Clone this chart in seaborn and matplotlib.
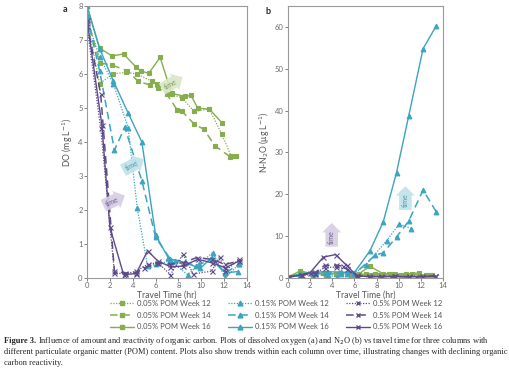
import matplotlib
matplotlib.use('Agg')
import matplotlib.pyplot as plt
import seaborn as sns
from matplotlib.lines import Line2D

# ---- panel a: dissolved oxygen (mg/L) vs travel time (hr) ----
g12_t = [0, 1.1, 2.3, 3.4, 4.4, 5.7, 6.1, 7.4, 8.3, 9.4, 10.7, 11.8, 12.6]
g12_do = [7.6, 5.72, 6.0, 6.05, 6.0, 5.78, 5.72, 5.4, 5.3, 4.9, 4.97, 4.23, 3.6]
g14_t = [0, 1.1, 2.2, 3.5, 4.5, 5.5, 6.2, 7.0, 7.9, 8.3, 9.4, 10.2, 11.2, 12.5, 13.0]
g14_do = [7.7, 6.33, 6.26, 6.1, 5.78, 5.68, 5.6, 5.4, 4.94, 4.91, 4.52, 4.38, 3.89, 3.57, 3.59]
g16_t = [0, 1.1, 2.2, 3.2, 4.3, 4.7, 5.4, 6.4, 7.4, 8.6, 9.1, 9.7, 10.7, 11.8]
g16_do = [8.0, 6.76, 6.53, 6.59, 6.2, 6.09, 6.02, 6.49, 5.43, 5.34, 5.37, 4.99, 4.97, 4.57]

t12_t = [0, 1.1, 2.3, 3.6, 4.4, 5.3, 6.0, 7.3, 8.8, 9.8, 11.0, 12.1, 13.3]
t12_do = [7.6, 6.5, 5.72, 4.42, 2.05, 0.35, 0.4, 0.5, 0.1, 0.4, 0.75, 0.0, 0.4]
t14_t = [0, 1.1, 2.4, 3.3, 4.8, 6.0, 7.3, 8.6, 9.5, 10.9, 12.1, 13.3]
t14_do = [7.7, 6.1, 3.76, 4.43, 2.86, 1.2, 0.55, 0.48, 0.35, 0.55, 0.14, 0.41]
t16_t = [0, 1.1, 2.3, 3.6, 4.8, 6.0, 7.1, 7.7, 8.6, 9.9, 10.9, 12.1, 13.2]
t16_do = [8.0, 6.75, 5.8, 4.85, 4.0, 1.27, 0.6, 0.51, 0.45, 0.28, 0.6, 0.15, 0.19]

p12_t = [0, 1.2, 2.4, 3.3, 4.3, 5.3, 6.2, 7.3, 8.4, 9.3, 10.9, 11.6, 12.1, 13.3]
p12_do = [7.4, 4.4, 0.15, 0.12, 0.2, 0.4, 0.45, 0.1, 0.7, 0.12, 0.2, 0.62, 0.2, 0.55]
p14_t = [0, 1.2, 2.4, 3.3, 4.3, 5.0, 6.1, 7.3, 8.4, 9.6, 10.9, 12.1, 13.3]
p14_do = [7.5, 5.4, 0.2, 0.15, 0.15, 0.3, 0.45, 0.4, 0.45, 0.6, 0.55, 0.4, 0.5]
p16_t = [0, 1.3, 2.0, 3.2, 4.3, 5.3, 6.2, 7.3, 8.4, 9.7, 10.9, 12.1, 13.3]
p16_do = [7.6, 4.5, 1.5, 0.1, 0.13, 0.8, 0.5, 0.33, 0.35, 0.55, 0.45, 0.3, 0.5]

# ---- panel b: N-N2O (ug/L) vs travel time (hr) ----
g12_n = [0.2, 1.0, 0.8, 0.7, 0.9, 0.8, 0.7, 0.6, 0.7, 0.6, 0.6, 0.7, 0.6]
g14_n = [0.2, 1.2, 1.1, 1.3, 1.0, 0.9, 0.8, 0.9, 1.0, 0.8, 0.9, 0.8, 0.9, 0.7, 0.7]
g16_n = [0.2, 1.7, 1.0, 1.1, 1.0, 1.2, 1.2, 1.0, 2.8, 1.0, 1.0, 0.9, 1.0, 1.2]
t12_nt = [0, 1.1, 2.3, 3.6, 4.4, 5.3, 6.0, 7.0, 8.9, 10.05, 11.15]
t12_n = [0.2, 0.5, 1.0, 0.6, 0.3, 1.0, 1.2, 3.0, 8.9, 12.9, 11.8]
t14_nt = [0, 1.1, 2.4, 3.3, 4.8, 6.0, 7.9, 8.6, 9.8, 10.9, 12.2, 13.4]
t14_n = [0.2, 0.8, 1.0, 1.2, 1.0, 1.0, 5.5, 6.0, 9.8, 13.6, 21.0, 15.8]
t16_nt = [0, 1.1, 2.3, 3.6, 4.8, 6.0, 7.4, 8.6, 9.8, 10.9, 12.2, 13.4]
t16_n = [0.2, 1.0, 1.4, 1.5, 1.4, 1.3, 6.5, 13.4, 25.2, 38.7, 54.8, 60.3]
p12_n = [0.2, 0.6, 1.0, 2.5, 2.6, 2.2, 0.5, 0.3, 0.4, 0.3, 0.4, 0.3, 0.3, 0.5]
p14_n = [0.2, 0.7, 1.2, 3.0, 3.1, 2.8, 0.5, 0.4, 0.3, 0.4, 0.3, 0.4, 0.5]
p16_n = [0.2, 0.8, 1.3, 5.0, 5.6, 3.0, 0.6, 0.3, 0.3, 0.4, 0.3, 0.3, 0.5]

labels = ['0.05% POM Week 12', '0.05% POM Week 14', '0.05% POM Week 16',
          '0.15% POM Week 12', '0.15% POM Week 14', '0.15% POM Week 16',
          '0.5% POM Week 12', '0.5% POM Week 14', '0.5% POM Week 16']

GREEN = '#86AE4E'
TEAL = '#3BA4C0'
PURPLE = '#5E4A8A'
styles = {
    'g12': dict(color=GREEN, marker='s', ls=(0, (1, 1.2)), lw=0.9),
    'g14': dict(color=GREEN, marker='s', ls=(0, (5, 3)), lw=1.1),
    'g16': dict(color=GREEN, marker='s', ls='-', lw=1.0),
    't12': dict(color=TEAL, marker='^', ls=(0, (1, 1.2)), lw=0.9),
    't14': dict(color=TEAL, marker='^', ls=(0, (5, 3)), lw=1.1),
    't16': dict(color=TEAL, marker='^', ls='-', lw=1.0),
    'p12': dict(color=PURPLE, marker='x', ls=(0, (1, 1.2)), lw=0.9),
    'p14': dict(color=PURPLE, marker='x', ls=(0, (5, 3)), lw=1.1),
    'p16': dict(color=PURPLE, marker='x', ls='-', lw=1.0),
}

panel_a = [('g12', g12_t, g12_do), ('g14', g14_t, g14_do), ('g16', g16_t, g16_do),
           ('t12', t12_t, t12_do), ('t14', t14_t, t14_do), ('t16', t16_t, t16_do),
           ('p12', p12_t, p12_do), ('p14', p14_t, p14_do), ('p16', p16_t, p16_do)]
panel_b = [('g12', g12_t, g12_n), ('g14', g14_t, g14_n), ('g16', g16_t, g16_n),
           ('t12', t12_nt, t12_n), ('t14', t14_nt, t14_n), ('t16', t16_nt, t16_n),
           ('p12', p12_t, p12_n), ('p14', p14_t, p14_n), ('p16', p16_t, p16_n)]

sns.set_theme(style='white')
plt.rcParams['font.family'] = ['Lato', 'DejaVu Sans']

fig = plt.figure(figsize=(5.09, 3.70), dpi=100)
ax_a = fig.add_axes([87 / 509, 92 / 370, 160 / 509, 272 / 370])
ax_b = fig.add_axes([288 / 509, 92 / 370, 155 / 509, 272 / 370])


def draw(ax, series):
    for key, t, v in series:
        st = styles[key]
        ms = 3.4 if st['marker'] != 'x' else 3.6
        sns.lineplot(x=t, y=v, ax=ax, sort=False, estimator=None,
                     color=st['color'], linestyle=st['ls'], linewidth=st['lw'],
                     marker=st['marker'], markersize=ms,
                     markeredgecolor=st['color'], markeredgewidth=0.8)


draw(ax_a, panel_a)
draw(ax_b, panel_b)

for ax in (ax_a, ax_b):
    ax.set_xlim(0, 14)
    ax.set_xticks(range(0, 15, 2))
    for s in ax.spines.values():
        s.set_color('#9a9a9a')
        s.set_linewidth(0.8)
    ax.tick_params(labelsize=5.5, colors='#6b6b6b', length=2, width=0.6,
                   direction='out', left=True, bottom=True, pad=1.2)
    ax.set_xlabel('Travel Time (hr)', fontsize=6.2, color='#555555')
    ax.xaxis.set_label_coords(0.5, -0.045)

ax_a.set_ylim(0, 8)
ax_a.set_yticks(range(0, 9))
ax_a.set_ylabel('DO (mg L$^{-1}$)', fontsize=6.2, color='#555555', labelpad=2)
ax_b.set_ylim(0, 65)
ax_b.set_yticks(range(0, 61, 10))
ax_b.set_ylabel('N-N$_2$O (\u03bcg L$^{-1}$)', fontsize=6.2, color='#555555', labelpad=2)

fig.text(63 / 509, 1 - 12 / 370, 'a', fontsize=6.5, fontweight='bold')
fig.text(265 / 509, 1 - 14 / 370, 'b', fontsize=6.5, fontweight='bold')


def time_arrow(ax, x, y, rot, fc, tc):
    ax.text(x, y, 'time', rotation=rot, fontsize=5, color=tc,
            ha='center', va='center', rotation_mode='anchor',
            bbox=dict(boxstyle='rarrow,pad=0.4', fc=fc, ec='none', alpha=0.9))


time_arrow(ax_a, 7.3, 5.7, 30, '#d9e6c6', '#7f9a5a')
time_arrow(ax_a, 3.9, 3.3, 28, '#bfe1ea', '#4c9ab0')
time_arrow(ax_a, 2.2, 2.25, 25, '#d6cce3', '#6e5b90')
time_arrow(ax_b, 3.95, 9.8, 90, '#d6cce3', '#6e5b90')
time_arrow(ax_b, 10.6, 18.6, 90, '#bfe1ea', '#4c9ab0')

handles = []
for key in ['g12', 'g14', 'g16', 't12', 't14', 't16', 'p12', 'p14', 'p16']:
    st = styles[key]
    handles.append(Line2D([], [], color=st['color'], ls=st['ls'], lw=st['lw'],
                          marker=st['marker'], markersize=3.5,
                          markeredgecolor=st['color']))
fig.legend(handles, labels, ncol=3, loc='center', bbox_to_anchor=(276 / 509, 1 - 315 / 370),
           frameon=False, fontsize=5.5, handlelength=3.2, columnspacing=2.2,
           labelspacing=0.65, handletextpad=0.4, labelcolor='#555555')

# caption
cap_font = ['Liberation Serif', 'DejaVu Serif']
cap_size = 6.0
bold = fig.text(4 / 509, 1 - 341 / 370, 'Figure 3.', fontsize=cap_size, fontweight='bold',
                family=cap_font, va='center')
fig.canvas.draw()
bb = bold.get_window_extent(fig.canvas.get_renderer())
x_after = (bb.x1 + 2) / fig.bbox.width
fig.text(x_after, 1 - 341 / 370,
         'Influence of amount and reactivity of organic carbon. Plots of dissolved oxygen (a) and '
         'N$_2$O (b) vs travel time for three columns with',
         fontsize=cap_size, family=cap_font, va='center')
fig.text(4 / 509, 1 - 352 / 370,
         'different particulate organic matter (POM) content. Plots also show trends within each '
         'column over time, illustrating changes with declining organic',
         fontsize=cap_size, family=cap_font, va='center')
fig.text(4 / 509, 1 - 363 / 370, 'carbon reactivity.', fontsize=cap_size, family=cap_font,
         va='center')

fig.savefig('out.png', dpi=100)
